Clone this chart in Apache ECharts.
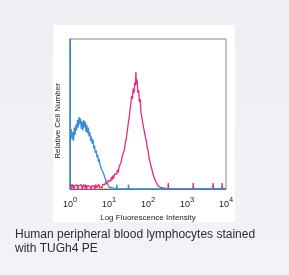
<!DOCTYPE html>
<html><head><meta charset="utf-8">
<script src="https://cdn.jsdelivr.net/npm/echarts@6/dist/echarts.min.js"></script>
<style>html,body{margin:0;padding:0;background:linear-gradient(180deg,#efeef2,#f3f2f7);}#c{width:289px;height:275px;}</style>
</head><body><div id="c"></div>
<script>
const tickLabels = ['10^0','10^1','10^2','10^3','10^4'];
const xTitle = 'Log Fluorescence Intensity';
const yTitle = 'Relative Cell Number';
const caption = 'Human peripheral blood lymphocytes stained\nwith TUGh4 PE';
// [log10 decade, relative count]
const blueHist = [[0,0],[0,1.0],[0.01,0.36],[0.03,0.40],[0.05,0.33],[0.07,0.38],[0.09,0.32],[0.11,0.41],[0.13,0.36],[0.15,0.43],[0.17,0.39],[0.19,0.46],[0.21,0.41],[0.23,0.48],[0.25,0.43],[0.27,0.47],[0.29,0.40],[0.31,0.45],[0.33,0.39],[0.35,0.46],[0.37,0.41],[0.39,0.45],[0.41,0.38],[0.43,0.43],[0.45,0.37],[0.47,0.41],[0.49,0.35],[0.51,0.38],[0.53,0.32],[0.55,0.35],[0.57,0.30],[0.59,0.33],[0.61,0.27],[0.63,0.29],[0.65,0.24],[0.67,0.26],[0.69,0.21],[0.71,0.23],[0.73,0.18],[0.75,0.20],[0.77,0.16],[0.79,0.17],[0.81,0.13],[0.83,0.14],[0.85,0.11],[0.87,0.12],[0.89,0.08],[0.91,0.09],[0.93,0.05],[0.95,0.06],[0.97,0.03],[0.99,0.04],[1.01,0.01],[1.03,0.02],[1.05,0.0],[1.08,0.01],[1.11,0.0],[1.19,0.0],[1.20,0.03],[1.21,0.0],[1.49,0.0],[1.50,0.03],[1.51,0.0],[4.0,0.0]];
const pinkHist = [[0.00,0.02],[0.02,0.00],[0.04,0.03],[0.06,0.01],[0.08,0.03],[0.10,0.00],[0.12,0.02],[0.14,0.03],[0.16,0.01],[0.18,0.03],[0.20,0.00],[0.22,0.02],[0.24,0.03],[0.26,0.01],[0.28,0.03],[0.30,0.02],[0.32,0.00],[0.34,0.03],[0.36,0.02],[0.38,0.01],[0.40,0.03],[0.42,0.00],[0.44,0.02],[0.46,0.03],[0.48,0.01],[0.50,0.02],[0.52,0.03],[0.54,0.00],[0.56,0.02],[0.58,0.01],[0.60,0.03],[0.62,0.02],[0.64,0.00],[0.66,0.03],[0.68,0.01],[0.70,0.02],[0.72,0.00],[0.74,0.03],[0.76,0.01],[0.78,0.00],[0.80,0.02],[0.82,0.01],[0.84,0.03],[0.86,0.02],[0.88,0.04],[0.90,0.03],[0.92,0.05],[0.94,0.04],[0.96,0.03],[0.98,0.06],[1.00,0.05],[1.02,0.07],[1.04,0.05],[1.06,0.08],[1.08,0.06],[1.10,0.09],[1.12,0.07],[1.14,0.10],[1.16,0.09],[1.18,0.11],[1.20,0.10],[1.22,0.13],[1.24,0.11],[1.26,0.15],[1.28,0.14],[1.30,0.17],[1.32,0.19],[1.34,0.22],[1.36,0.21],[1.38,0.25],[1.40,0.27],[1.42,0.31],[1.44,0.33],[1.46,0.37],[1.48,0.41],[1.50,0.45],[1.52,0.48],[1.54,0.53],[1.56,0.57],[1.58,0.62],[1.60,0.60],[1.62,0.67],[1.64,0.64],[1.66,0.71],[1.68,0.69],[1.69,0.78],[1.70,0.70],[1.72,0.73],[1.74,0.64],[1.76,0.66],[1.78,0.58],[1.80,0.60],[1.82,0.51],[1.84,0.50],[1.86,0.45],[1.88,0.44],[1.90,0.39],[1.92,0.38],[1.94,0.34],[1.96,0.32],[1.98,0.28],[2.00,0.26],[2.02,0.22],[2.04,0.21],[2.06,0.17],[2.08,0.16],[2.10,0.13],[2.12,0.12],[2.14,0.09],[2.16,0.08],[2.18,0.06],[2.20,0.05],[2.22,0.04],[2.24,0.05],[2.26,0.02],[2.28,0.03],[2.30,0.02],[2.32,0.01],[2.34,0.02],[2.36,0.00],[2.51,0.00],[2.52,0.04],[2.53,0.00],[3.15,0.00],[3.16,0.04],[3.17,0.00],[3.66,0.00],[3.67,0.04],[3.68,0.00],[3.89,0.00],[3.90,0.04],[3.91,0.00],[4.0,0.0]];

const chart = echarts.init(document.getElementById('c'), null, {renderer:'canvas'});
const font = 'Liberation Sans, Arial, sans-serif';
chart.setOption({
  animation:false,
  backgroundColor:'transparent',
  graphic:[
    {type:'rect', left:53, top:25, z:-10, shape:{width:182, height:197}, style:{fill:'#ffffff'}},
    {type:'text', left:15, top:228, style:{text:caption, font:'12px '+font, fill:'#2b2b38', lineHeight:14}}
  ],
  grid:{left:70, top:39, width:156, height:150, show:true, borderColor:'#8a8a8a', borderWidth:1, backgroundColor:'#fff'},
  xAxis:{type:'value', min:0, max:4, interval:1,
    name:xTitle, nameLocation:'middle', nameGap:19,
    nameTextStyle:{fontFamily:font, fontSize:8, color:'#222'},
    axisLine:{show:true, lineStyle:{color:'#5a6a80', width:1}},
    axisTick:{show:false}, splitLine:{show:false},
    axisLabel:{margin:7, formatter:function(v){const t=tickLabels[Math.round(v)]; const p=t.split('^'); return '{b|'+p[0]+'}{s|'+p[1]+'}';},
      rich:{b:{fontFamily:font, fontSize:9, color:'#222', verticalAlign:'bottom'}, s:{fontFamily:font, fontSize:7.5, color:'#222', verticalAlign:'top', padding:[0,0,5,0]}}}
  },
  yAxis:{type:'value', min:0, max:1,
    name:yTitle, nameLocation:'middle', nameGap:8, nameRotate:90,
    nameTextStyle:{fontFamily:font, fontSize:8, color:'#222', padding:[0,14,0,0]},
    axisLine:{show:true, lineStyle:{color:'#555', width:1}},
    axisTick:{show:false}, axisLabel:{show:false}, splitLine:{show:false}
  },
  series:[
    {type:'line', data:pinkHist, symbol:'none', clip:true, lineStyle:{color:'#e6287e', width:1.3}},
    {type:'line', data:blueHist, symbol:'none', clip:true, lineStyle:{color:'#3b8ed6', width:1.3}}
  ]
});
</script></body></html>
